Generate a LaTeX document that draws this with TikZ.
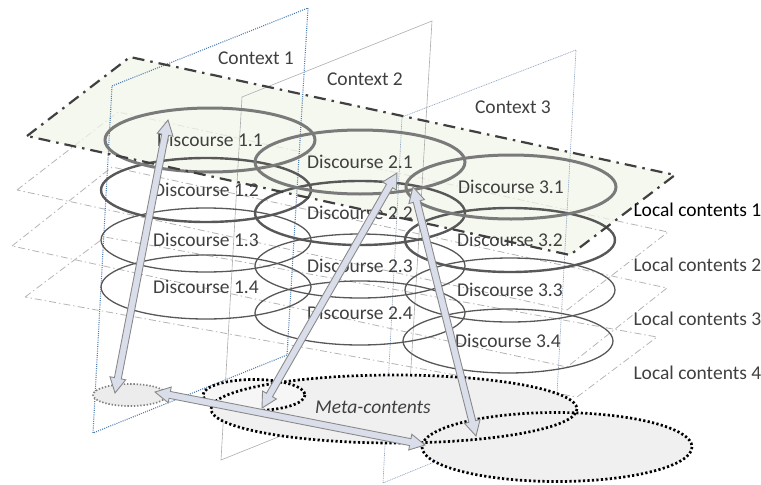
\documentclass[tikz,border=0pt]{standalone}
\usepackage{fontspec}
\setmainfont{Carlito}
\usetikzlibrary{calc,shapes.geometric}
\definecolor{txtgray}{HTML}{404040}
\definecolor{ringlight}{HTML}{7A7A7A}
\definecolor{ringdark}{HTML}{585858}
\definecolor{lcfill}{HTML}{F2F5EA}
\definecolor{lcline}{HTML}{B4B4B4}
\definecolor{ctxblue}{HTML}{4F7DB0}
\definecolor{ctxpale}{HTML}{93A8C2}
\definecolor{arrfill}{HTML}{D9DEEA}
\definecolor{arrline}{HTML}{8A8A8A}
\definecolor{metafill}{HTML}{F0F0F0}
% fat double-headed arrow between two named points
\newcommand{\dblarrow}[2]{%
	\path ($(#1)!15pt!(#2)$) coordinate (h1) ($(#2)!15pt!(#1)$) coordinate (h2);
	\draw[fatarrow] (#1) -- ($(h1)!8pt!90:(#1)$) -- ($(h1)!3.5pt!90:(#1)$)
		-- ($(h2)!3.5pt!-90:(#2)$) -- ($(h2)!8pt!-90:(#2)$) -- (#2)
		-- ($(h2)!8pt!90:(#2)$) -- ($(h2)!3.5pt!90:(#2)$)
		-- ($(h1)!3.5pt!-90:(#1)$) -- ($(h1)!8pt!-90:(#1)$) -- cycle;}

\begin{document}
\begin{tikzpicture}[x=1pt,y=-1pt]
	\path [use as bounding box] (0,0) rectangle (761,485);
	\tikzstyle{every node} = [font=\fontsize{19.5}{22}\selectfont, text=txtgray]
	\tikzstyle{plane} = [draw=lcline, line width=0.8, dash pattern=on 7pt off 3pt on 1.5pt off 3pt]
	\tikzstyle{topplane} = [draw=txtgray, line width=2.2, dash pattern=on 12pt off 6pt on 2.5pt off 6pt]
	\tikzstyle{ctx1} = [draw=ctxblue, line width=1.1, dash pattern=on 1pt off 1.2pt]
	\tikzstyle{ctx2} = [draw=gray!65, line width=0.6]
	\tikzstyle{ctx3} = [draw=ctxpale, line width=0.7, dash pattern=on 1pt off 0.8pt]
	\tikzstyle{disc} = [ellipse, minimum width=210, minimum height=64, inner sep=0pt]
	\tikzstyle{row1} = [disc, draw=ringlight, line width=3]
	\tikzstyle{row2} = [disc, draw=ringdark, line width=2.4]
	\tikzstyle{row3} = [disc, draw=ringdark, line width=1.3]
	\tikzstyle{meta} = [ellipse, inner sep=0pt, fill=metafill]
	\tikzstyle{metaline} = [draw=black, line width=2.7, dash pattern=on 2.2pt off 2.3pt]
	\tikzstyle{fatarrow} = [fill=arrfill, draw=arrline, line width=0.9, line join=miter]

	% local contents planes
	\draw[plane] (25,297) -- (105,237) -- (657,337) -- (577,397) -- cycle;
	\draw[plane] (12,246) -- (112,167) -- (667,288) -- (567,367) -- cycle;
	\draw[plane] (17,190) -- (118,112) -- (668,232) -- (567,310) -- cycle;
	\fill[lcfill, fill opacity=0.75] (27,136) -- (130,57) -- (675,175) -- (570,255) -- cycle;

	% context planes
	\draw[ctx1] (112,86) -- (308,8) -- (287,355) -- (93,433) -- cycle;
	\draw[ctx2] (242,97) -- (432,21) -- (410,384) -- (221,460) -- cycle;
	\draw[ctx3] (402,117) -- (576,50) -- (556,412) -- (383,483) -- cycle;

	% meta-contents
	\node[meta, minimum width=366, minimum height=68] (mc) at (394,409) {};
	\node[meta, minimum width=270, minimum height=69] (mcb) at (557,447) {};
	\node[meta, fill=metafill!60, minimum width=102, minimum height=31] (mcs) at (254,395) {};
	\node[meta, fill=gray!15, minimum width=74, minimum height=22] (mcl) at (130,395) {};
	\draw[metaline] (mc.center) ellipse [x radius=183, y radius=34];
	\draw[metaline] (mcb.center) ellipse [x radius=135, y radius=34.5];
	\draw[metaline] (mcs.center) ellipse [x radius=51, y radius=15.5];
	\draw[metaline, draw=gray, line width=1.7, dash pattern=on 1.4pt off 1.8pt] (mcl.center) ellipse [x radius=37, y radius=11];
	\node[font=\fontsize{19.5}{22}\selectfont\itshape] (mctext) at (373,407) {Meta-contents};

	% discourses
	\node[row3] (d14) at (206,287) {Discourse 1.4};
	\node[row3] (d24) at (360,313) {Discourse 2.4};
	\node[row3] (d34) at (508,341) {Discourse 3.4};
	\node[row3] (d13) at (206,240) {Discourse 1.3};
	\node[row3] (d23) at (360,266) {Discourse 2.3};
	\node[row3] (d33) at (510,290) {Discourse 3.3};
	\node[row2] (d12) at (206,190) {Discourse 1.2};
	\node[row2] (d22) at (360,213) {Discourse 2.2};
	\node[row2] (d32) at (510,240) {Discourse 3.2};
	\node[row1] (d11) at (210,140) {Discourse 1.1};
	\node[row1] (d21) at (360,162) {Discourse 2.1};
	\node[row1] (d31) at (511,187) {Discourse 3.1};

	\draw[topplane] (27,136) -- (130,57) -- (675,175) -- (570,255) -- cycle;

	% arrows
	\coordinate (a1) at (168,120);
	\coordinate (b1) at (115,393);
	\coordinate (a2) at (155,392);
	\coordinate (b2) at (425,445);
	\coordinate (a3) at (397,173);
	\coordinate (b3) at (262,408);
	\coordinate (a4) at (413,187);
	\coordinate (b4) at (476,436);
	\dblarrow{a1}{b1}
	\dblarrow{a2}{b2}
	\dblarrow{a3}{b3}
	\dblarrow{a4}{b4}

	% labels
	\node (c1) at (256,58) {Context 1};
	\node (c2) at (365,79) {Context 2};
	\node (c3) at (513,107) {Context 3};
	\node[anchor=west, text=black] (lc1) at (630,210) {Local contents 1};
	\node[anchor=west] (lc2) at (630,265) {Local contents 2};
	\node[anchor=west] (lc3) at (630,319) {Local contents 3};
	\node[anchor=west] (lc4) at (630,373) {Local contents 4};
\end{tikzpicture}
\end{document}
